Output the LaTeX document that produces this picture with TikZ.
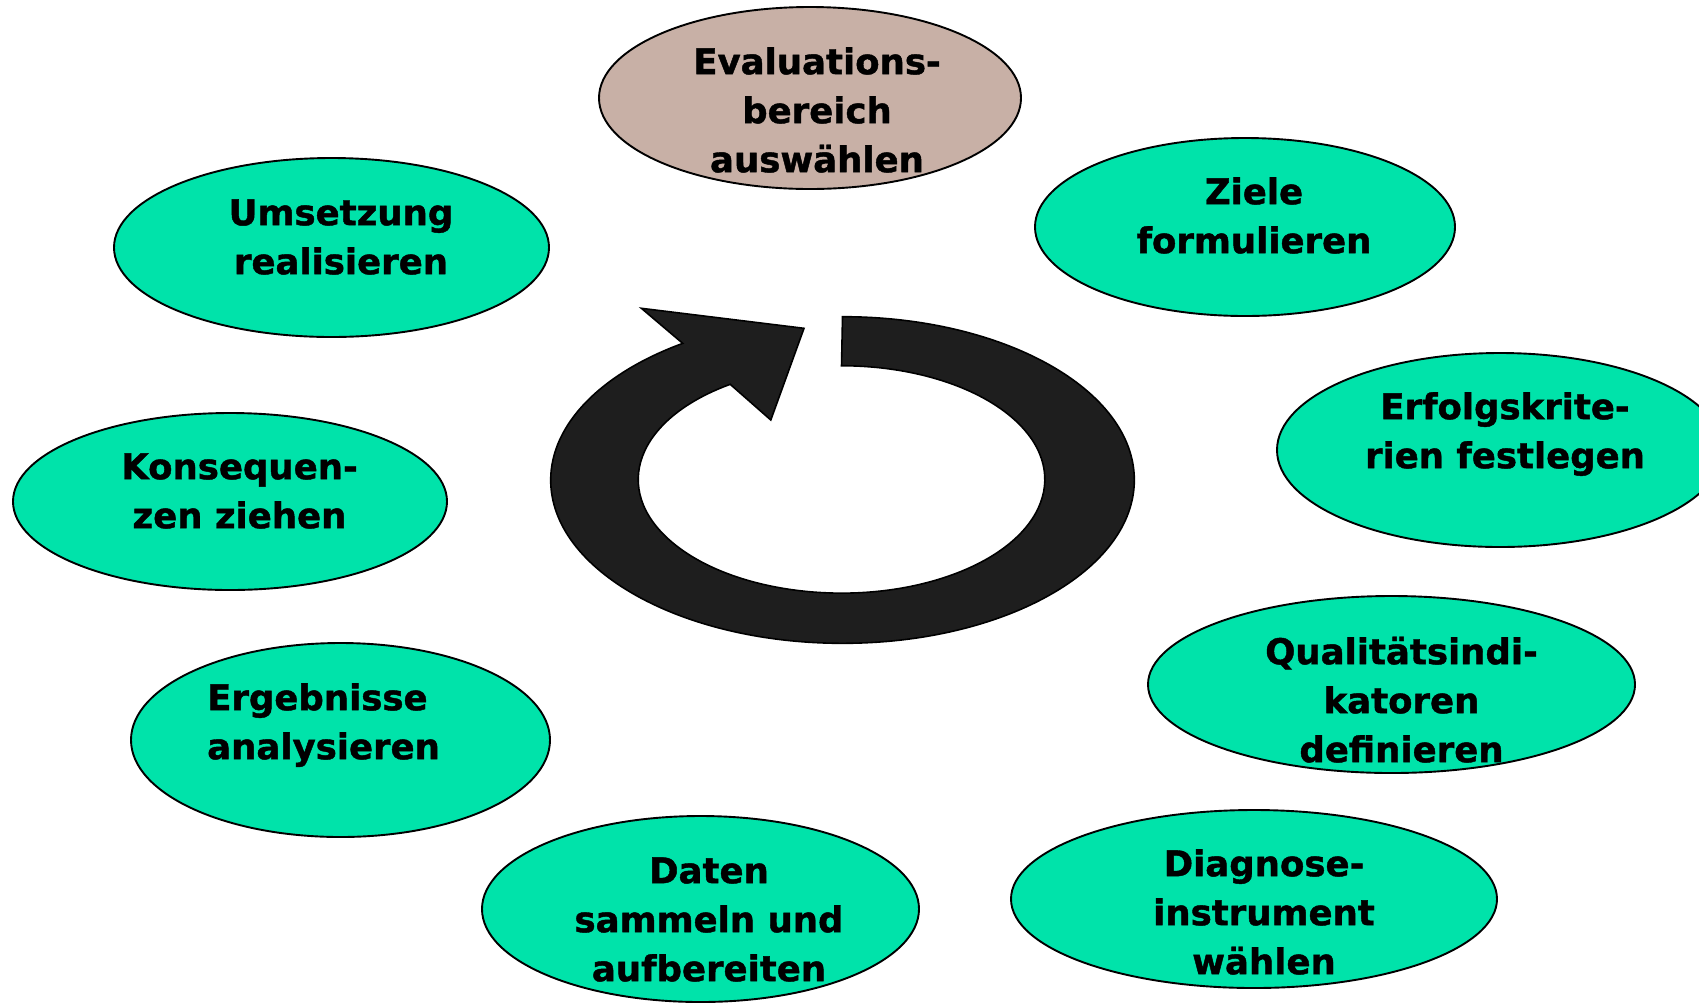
\documentclass[tikz,border=0pt]{standalone}
\usepackage{fontspec}
\setsansfont{DejaVu Sans}[BoldFeatures={FakeBold=1.2}]
\usetikzlibrary{shapes.geometric}
\definecolor{mint}{RGB}{0,227,170}
\definecolor{tan}{RGB}{200,176,166}
\definecolor{ringgray}{RGB}{30,30,30}
\newcommand{\labfont}{\sffamily\bfseries\fontsize{35.5}{49}\selectfont}
\newcommand{\fl}{\rule{0pt}{30pt}}
\begin{document}
\begin{tikzpicture}[x=1pt,y=-1pt,
  ell/.style={ellipse, draw=black, line width=1.9pt, fill=mint, inner sep=0pt, outer sep=0pt},
  lab/.style={inner sep=0pt, anchor=north, align=center, font=\labfont},
  labl/.style={inner sep=0pt, anchor=north west, align=left, font=\labfont},
  ring/.style={fill=ringgray, draw=black, line width=1.6pt, line join=miter}]
\useasboundingbox (0,0) rectangle (1699,1005);
\clip (0,0) rectangle (1699,1005);
% ellipses
\node[ell, fill=tan, minimum width=422pt, minimum height=182pt] (e1) at (810,98) {};
\node[ell, minimum width=420pt, minimum height=178pt] (e2) at (1245,227) {};
\node[ell, minimum width=446pt, minimum height=194pt] (e3) at (1500,450) {};
\node[ell, minimum width=487pt, minimum height=177pt] (e4) at (1391.5,684.5) {};
\node[ell, minimum width=486pt, minimum height=178pt] (e5) at (1254,899) {};
\node[ell, minimum width=437pt, minimum height=186pt] (e6) at (700.5,909) {};
\node[ell, minimum width=419pt, minimum height=194pt] (e7) at (340.5,740) {};
\node[ell, minimum width=434pt, minimum height=177pt] (e8) at (230,501.5) {};
\node[ell, minimum width=435pt, minimum height=179pt] (e9) at (331.5,247.5) {};
% labels
\node[lab] (t1) at (817,44) {\fl Evaluations-\\bereich\\auswählen};
\node[lab] (t2) at (1254,174) {\fl Ziele\\formulieren};
\node[lab] (t3) at (1505,389) {\fl Erfolgskrite-\\rien festlegen};
\node[lab] (t4) at (1401.5,634) {\fl Qualitätsindi-\\katoren\\definieren};
\node[lab] (t5) at (1264,846) {\fl Diagnose-\\instrument\\wählen};
\node[lab] (t6) at (709,853) {\fl Daten\\sammeln und\\aufbereiten};
\node[labl] (t7) at (207,680) {\fl Ergebnisse\\analysieren};
\node[lab] (t8) at (239.5,449) {\fl Konsequen-\\zen ziehen};
\node[lab] (t9) at (341,195) {\fl Umsetzung\\realisieren};
% circular arrow
\path[ring] (842.5,316.7)
  arc[start angle=270, end angle=596.8, x radius=291.8, y radius=163.3]
  -- (641.4,308.3) -- (804,328.3) -- (770.8,420) -- (730.2,384.3)
  arc[start angle=596.8, end angle=270, x radius=203.3, y radius=113.7]
  -- cycle;
\end{tikzpicture}
\end{document}
